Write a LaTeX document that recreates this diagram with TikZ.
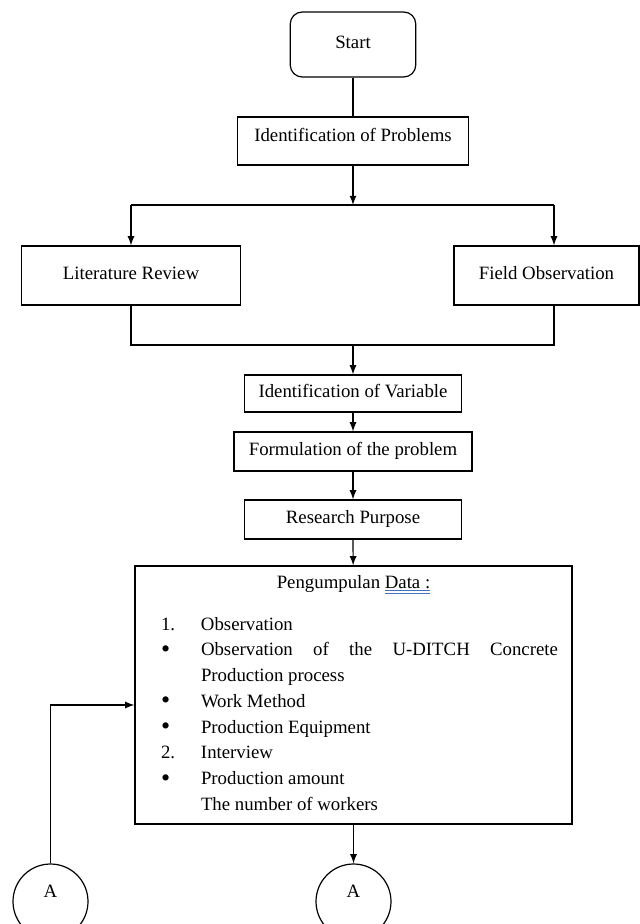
\documentclass[tikz,border=0pt]{standalone}
\usepackage{fontspec}
\setmainfont{Liberation Serif}
\usepackage{xcolor}
\usetikzlibrary{arrows}
\definecolor{spellblue}{RGB}{68,114,196}
\newsavebox{\spellbox}
\newcommand{\spellline}[1]{\sbox{\spellbox}{#1}%
  \rlap{\color{spellblue}\rule[-1.4pt]{\wd\spellbox}{0.45pt}}%
  \rlap{\color{spellblue}\rule[-2.5pt]{\wd\spellbox}{0.45pt}}\usebox{\spellbox}}
\newcommand{\databullet}{\raisebox{-0.8pt}{\fontsize{13}{13}\selectfont\textbullet}}
\newcommand{\dataitem}[2]{\par\noindent\hangindent=33pt\hangafter=1\makebox[33pt][l]{\hspace{13pt}#1}#2}

\begin{document}
\begin{tikzpicture}[x=0.5pt, y=-0.5pt, line width=0.6pt,
  font=\fontsize{9.4}{12.86}\selectfont,
  box/.style={draw, rectangle, inner sep=0pt, text depth=2.5pt},
  startbox/.style={box, rounded corners=6pt, minimum width=62.75pt, minimum height=32.5pt},
  connector/.style={draw, circle, inner sep=0pt, minimum size=37.5pt, text depth=10.5pt}]
  \useasboundingbox (0,0) rectangle (640,924);
  \node[startbox] (start) at (353,44.5) {Start};
  \node[box, minimum width=115.25pt, minimum height=24pt, text depth=6pt] (idprob) at (353,141) {Identification of Problems};
  \node[box, minimum width=109.5pt, minimum height=29.5pt] (lit) at (131,275.5) {Literature Review};
  \node[box, minimum width=92.5pt, minimum height=29.5pt] (field) at (546.5,275.5) {Field Observation};
  \node[box, minimum width=108.5pt, minimum height=18.5pt] (idvar) at (353,393.5) {Identification of Variable};
  \node[box, minimum width=119pt, minimum height=19.5pt] (form) at (353,451.5) {Formulation of the problem};
  \node[box, minimum width=108.5pt, minimum height=19.5pt] (purp) at (353,519.5) {Research Purpose};
  \node[draw, inner sep=0pt] (data) at (353.5,695) {\parbox[t][129pt][t]{218.5pt}{%
    \tolerance=10000\hbadness=10000\hyphenpenalty=10000
    {\centering\rule{0pt}{11.2pt}Pengumpulan \spellline{Data :}\par}
    \vspace{8pt}\rightskip=7pt
    \dataitem{1.}{Observation}
    \dataitem{\databullet}{Observation of the U-DITCH Concrete Production process}
    \dataitem{\databullet}{Work Method}
    \dataitem{\databullet}{Production Equipment}
    \dataitem{2.}{Interview}
    \dataitem{\databullet}{Production amount\\The number of workers}\par}};
  \node[connector] (circA) at (50.5,901.5) {A};
  \node[connector] (circB) at (353.5,901.5) {A};
  \coordinate (splitM) at (353,205);
  \coordinate (splitL) at (131,205);
  \coordinate (splitR) at (554,205);
  \coordinate (joinL) at (131,345);
  \coordinate (joinM) at (353,345);
  \coordinate (joinR) at (554,345);
  \coordinate (bend) at (50.5,705);
  \draw (start) -- (idprob);
  \draw[-latex] (idprob) -- (splitM);
  \draw (splitL) -- (splitR);
  \draw[-latex] (splitL) -- (lit);
  \draw[-latex] (splitR) -- (splitR |- field.north);
  \draw (lit) -- (joinL) -- (joinR) -- (joinR |- field.south);
  \draw[-latex] (joinM) -- (idvar);
  \path[-latex]
  (idvar) edge (form)
  (form) edge (purp)
  (purp) edge (data)
  (data) edge (circB)
  ;
  \draw[-latex] (circA) -- (bend) -- (bend -| data.west);
\end{tikzpicture}
\end{document}
